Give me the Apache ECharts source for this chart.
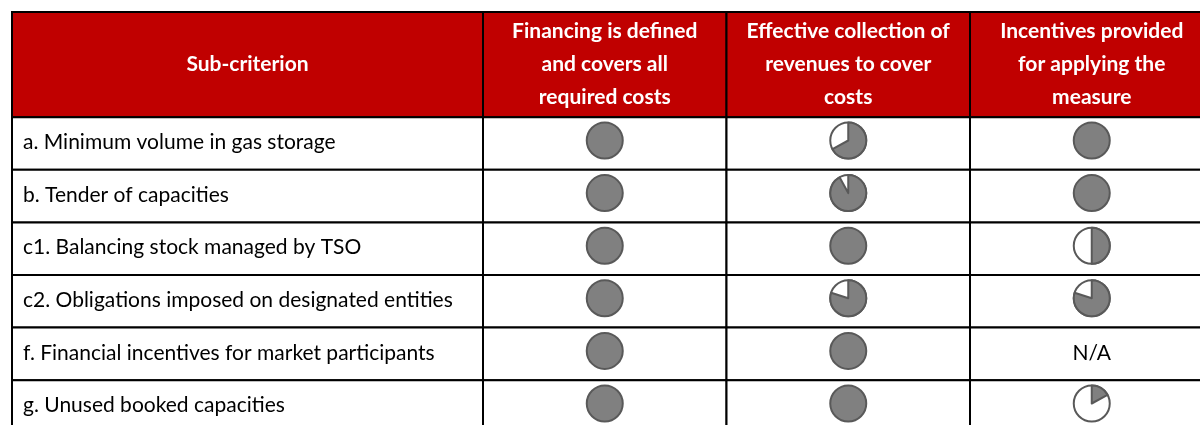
<!DOCTYPE html>
<html>
<head>
<meta charset="utf-8">
<script src="https://cdn.jsdelivr.net/npm/echarts@6/dist/echarts.min.js"></script>
<style>
html,body{margin:0;padding:0;background:#fff;width:1200px;height:425px;overflow:hidden;}
#chart{width:1230px;height:445px;}
</style>
</head>
<body>
<div id="chart"></div>
<script>
// ---- data ----
const headerLabel = 'Sub-criterion';
const subCriteria = [
  'a. Minimum volume in gas storage',
  'b. Tender of capacities',
  'c1. Balancing stock managed by TSO',
  'c2. Obligations imposed on designated entities',
  'f. Financial incentives for market participants',
  'g. Unused booked capacities'
];
const criteria = [
  'Financing is defined\nand covers all\nrequired costs',
  'Effective collection of\nrevenues to cover\ncosts',
  'Incentives provided\nfor applying the\nmeasure'
];
// share of the Harvey ball filled (1 = full, null = N/A)
const financing  = [1, 1, 1, 1, 1, 1];
const collection = [0.67, 0.92, 1, 0.8, 1, 1];
const incentives = [1, 1, 0.5, 0.8, null, 0.17];
const naText = 'N/A';

// ---- layout / style ----
const RED = '#C00000';
const BALL_FILL = '#808080';
const BALL_LINE = '#595959';
const FONT = 'Lato, "Open Sans", sans-serif';
const FONT_SIZE = 21;
const yCats = ['header', 'header-2'].concat(subCriteria);
const HEADER_ROWS = 2;

const chart = echarts.init(document.getElementById('chart'), null, {renderer: 'canvas'});

function headerRender(params, api, labels) {
  const col = api.value(0);
  const p0 = api.coord([col, 0]);
  const p1 = api.coord([col, HEADER_ROWS - 1]);
  const s = api.size([1, 1]);
  const top = p0[1] - s[1] / 2;
  const bottom = p1[1] + s[1] / 2;
  const left = p0[0] - s[0] / 2;
  return {
    type: 'group',
    children: [
      {type: 'rect', shape: {x: left, y: top, width: s[0], height: bottom - top},
       style: {fill: RED, stroke: '#000', lineWidth: 2}},
      {type: 'text', style: {
        text: labels[params.dataIndex],
        x: p0[0], y: (top + bottom) / 2,
        align: 'center', verticalAlign: 'middle',
        fill: '#fff', font: 'bold ' + FONT_SIZE + 'px ' + FONT, lineHeight: 33
      }}
    ]
  };
}

function labelRender(params, api) {
  const row = api.value(1);
  const c = api.coord([0, row]);
  const s = api.size([1, 1]);
  return {
    type: 'group',
    children: [
      {type: 'rect', shape: {x: c[0] - s[0] / 2, y: c[1] - s[1] / 2, width: s[0], height: s[1]},
       style: {fill: '#fff', stroke: '#000', lineWidth: 2}},
      {type: 'text', style: {
        text: subCriteria[row - HEADER_ROWS],
        x: c[0] - s[0] / 2 + 11, y: c[1] - 1,
        align: 'left', verticalAlign: 'middle',
        fill: '#000', font: FONT_SIZE + 'px ' + FONT
      }}
    ]
  };
}

function ballRender(params, api) {
  const col = api.value(0), row = api.value(1), v = api.value(2);
  const c = api.coord([col, row]);
  const s = api.size([1, 1]);
  const children = [
    {type: 'rect', shape: {x: c[0] - s[0] / 2, y: c[1] - s[1] / 2, width: s[0], height: s[1]},
     style: {fill: '#fff', stroke: '#000', lineWidth: 2}}
  ];
  const cx = c[0], cy = c[1] - 3, r = 18;
  if (isNaN(v)) {
    children.push({type: 'text', style: {
      text: naText, x: cx, y: c[1] - 1, align: 'center', verticalAlign: 'middle',
      fill: '#000', font: FONT_SIZE + 'px ' + FONT
    }});
  } else if (v >= 1) {
    children.push({type: 'circle', shape: {cx, cy, r},
      style: {fill: BALL_FILL, stroke: BALL_LINE, lineWidth: 2}});
  } else {
    children.push({type: 'circle', shape: {cx, cy, r},
      style: {fill: '#fff', stroke: BALL_LINE, lineWidth: 2}});
    children.push({type: 'sector', shape: {cx, cy, r0: 0, r,
        startAngle: -Math.PI / 2, endAngle: -Math.PI / 2 + v * Math.PI * 2, clockwise: true},
      style: {fill: BALL_FILL, stroke: BALL_LINE, lineWidth: 2, lineJoin: 'round'}});
  }
  return {type: 'group', children};
}

const ballData = [];
[financing, collection, incentives].forEach((arr, ci) => {
  arr.forEach((v, ri) => ballData.push([ci, ri + HEADER_ROWS, v == null ? '-' : v]));
});

const ROW_H = 52.6;
const gridTop = 12;
const gridH = ROW_H * yCats.length;

const option = {
  animation: false,
  backgroundColor: '#fff',
  grid: [
    {left: 12, top: gridTop, width: 471, height: gridH, outerBoundsMode: 'none'},
    {left: 483, top: gridTop, width: 730.5, height: gridH, outerBoundsMode: 'none'}
  ],
  xAxis: [
    {type: 'category', gridIndex: 0, data: [headerLabel], show: false},
    {type: 'category', gridIndex: 1, data: criteria, show: false}
  ],
  yAxis: [
    {type: 'category', gridIndex: 0, data: yCats, inverse: true, show: false},
    {type: 'category', gridIndex: 1, data: yCats, inverse: true, show: false}
  ],
  series: [
    {type: 'custom', name: 'hdrL', xAxisIndex: 0, yAxisIndex: 0, data: [[0, 0]],
     renderItem: (p, api) => headerRender(p, api, [headerLabel])},
    {type: 'custom', name: 'hdrR', xAxisIndex: 1, yAxisIndex: 1, data: criteria.map((c, i) => [i, 0]),
     renderItem: (p, api) => headerRender(p, api, criteria)},
    {type: 'custom', name: 'labels', xAxisIndex: 0, yAxisIndex: 0,
     data: subCriteria.map((s, i) => [0, i + HEADER_ROWS]), renderItem: labelRender},
    {type: 'custom', name: 'balls', xAxisIndex: 1, yAxisIndex: 1,
     data: ballData, renderItem: ballRender}
  ]
};
chart.setOption(option);
</script>
</body>
</html>
